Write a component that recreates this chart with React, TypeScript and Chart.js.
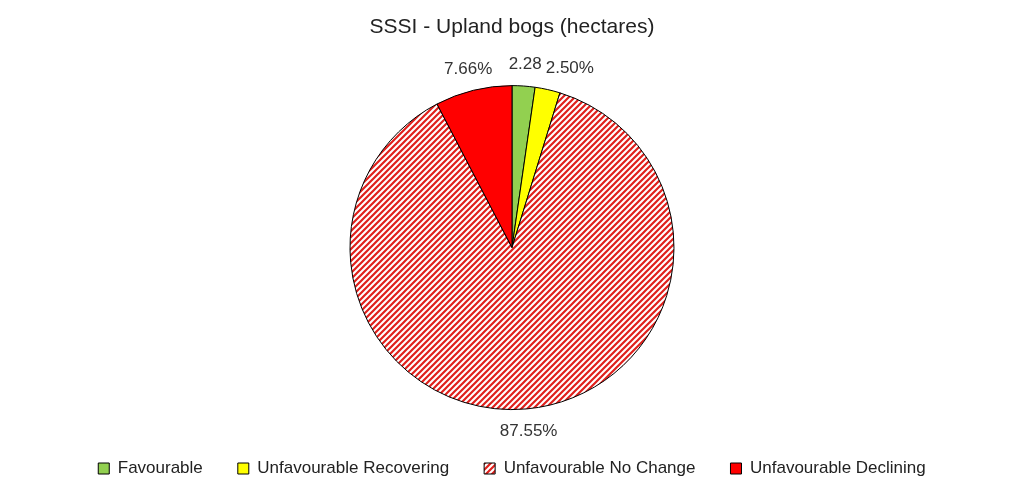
import { useEffect, useRef } from 'react'
import { Chart, registerables } from 'chart.js'

Chart.register(...registerables)

const CATEGORIES = ['Favourable', 'Unfavourable Recovering', 'Unfavourable No Change', 'Unfavourable Declining']
const SHARES = [2.28, 2.5, 87.55, 7.66]
const LABELS = ['2.28', '2.50%', '87.55%', '7.66%']
const COLORS = ['#92d050', '#ffff00', 'stripes', '#ff0000']

const FONT = "'Liberation Sans', Arial, sans-serif"

function makeStripes(color: string) {
  const size = 6
  const c = document.createElement('canvas')
  c.width = size
  c.height = size
  const ctx = c.getContext('2d')!
  ctx.fillStyle = '#ffffff'
  ctx.fillRect(0, 0, size, size)
  ctx.strokeStyle = color
  ctx.lineWidth = 2.2
  ctx.beginPath()
  ctx.moveTo(-1, size + 1)
  ctx.lineTo(size + 1, -1)
  ctx.moveTo(-1, 1)
  ctx.lineTo(1, -1)
  ctx.moveTo(size - 1, size + 1)
  ctx.lineTo(size + 1, size - 1)
  ctx.stroke()
  return ctx.createPattern(c, 'repeat')!
}

// outside labels, pushed apart horizontally when they collide
const outsideLabels = {
  id: 'outsideLabels',
  afterDatasetsDraw(chart: Chart) {
    const { ctx } = chart
    const meta = chart.getDatasetMeta(0)
    ctx.save()
    ctx.font = `17px ${FONT}`
    ctx.fillStyle = '#333333'
    ctx.textAlign = 'center'
    ctx.textBaseline = 'middle'
    const items = meta.data.map((el: any, i) => {
      const { x, y, startAngle, endAngle, outerRadius } = el.getProps(['x', 'y', 'startAngle', 'endAngle', 'outerRadius'], true)
      const mid = (startAngle + endAngle) / 2
      const r = outerRadius + 22
      const w = ctx.measureText(LABELS[i]).width
      return { i, x: x + Math.cos(mid) * r, y: y + Math.sin(mid) * r, w }
    })
    const top = items.filter(it => it.y < chart.chartArea.top + 40).sort((a, b) => a.x - b.x)
    for (let k = 1; k < top.length; k++) {
      const prev = top[k - 1]
      const cur = top[k]
      const minX = prev.x + prev.w / 2 + 4 + cur.w / 2
      if (cur.x < minX) cur.x = minX
    }
    items.forEach(it => ctx.fillText(LABELS[it.i], it.x, it.y))
    ctx.restore()
  },
}

export default function App() {
  const ref = useRef<HTMLCanvasElement>(null)

  useEffect(() => {
    document.body.style.margin = '0'
    if (!ref.current) return
    const stripes = makeStripes('#e0201c')
    const chart = new Chart(ref.current, {
      type: 'pie',
      data: {
        labels: CATEGORIES,
        datasets: [{
          data: SHARES,
          backgroundColor: COLORS.map(c => (c === 'stripes' ? stripes : c)),
          borderColor: '#000000',
          borderWidth: 1,
          radius: 162,
        }],
      },
      options: {
        responsive: false,
        animation: false,
        layout: { padding: { bottom: 9 } },
        plugins: {
          title: {
            display: true,
            text: 'SSSI - Upland bogs (hectares)',
            color: '#222222',
            font: { family: FONT, size: 21, weight: 'normal' },
            padding: { top: 15, bottom: 30 },
          },
          legend: {
            position: 'bottom',
            labels: {
              color: '#222222',
              font: { family: FONT, size: 17 },
              boxWidth: 11,
              boxHeight: 11,
              padding: 35,
            },
          },
          tooltip: { enabled: false },
        },
      },
      plugins: [outsideLabels],
    })
    return () => chart.destroy()
  }, [])

  return (
    <div style={{ width: 1024, height: 496, background: '#ffffff' }}>
      <canvas ref={ref} width={1024} height={496} />
    </div>
  )
}
